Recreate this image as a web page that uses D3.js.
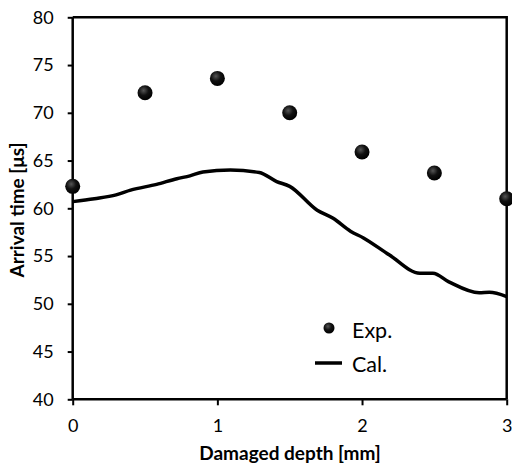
<!DOCTYPE html>
<html><head><meta charset="utf-8">
<script src="https://cdn.jsdelivr.net/npm/d3@7"></script>
<style>body{margin:0;background:#fff}svg{display:block}</style>
</head><body>
<svg id="c" width="512" height="465"></svg>
<script>
const expDepth = [0, 0.5, 1, 1.5, 2, 2.5, 3];
const expTime = [62.3, 72.1, 73.6, 70.0, 65.9, 63.7, 61.0];
const calDepth = [0, 0.15, 0.30, 0.40, 0.58, 0.72, 0.81, 0.90, 1.09, 1.29, 1.41, 1.50, 1.69, 1.80, 1.92, 2.01, 2.19, 2.40, 2.49, 2.60, 2.81, 2.88, 3.0];
const calTime = [60.7, 61.0, 61.4, 61.9, 62.5, 63.1, 63.4, 63.8, 64.0, 63.75, 62.8, 62.3, 59.8, 58.95, 57.6, 56.9, 55.1, 53.2, 53.2, 52.3, 51.15, 51.2, 50.75];
const xTicks = [0, 1, 2, 3];
const yTicks = [40, 45, 50, 55, 60, 65, 70, 75, 80];

const svg = d3.select("#c");
const L = 72.7, R = 506.7, T = 17.3, B = 399.3;
const x = d3.scaleLinear().domain([0, 3]).range([L, R]);
const y = d3.scaleLinear().domain([40, 80]).range([B, T]);
const font = "Lato, 'Open Sans', sans-serif";

const defs = svg.append("defs");
const g = defs.append("radialGradient").attr("id", "ball").attr("cx", "40%").attr("cy", "35%").attr("r", "65%");
g.append("stop").attr("offset", "0%").attr("stop-color", "#555");
g.append("stop").attr("offset", "50%").attr("stop-color", "#111");
g.append("stop").attr("offset", "100%").attr("stop-color", "#000");

// frame top/right
svg.append("line").attr("x1", L).attr("x2", R).attr("y1", T).attr("y2", T).attr("stroke", "#000").attr("stroke-width", 2.5);
svg.append("line").attr("x1", R).attr("x2", R).attr("y1", T - 1.2).attr("y2", B).attr("stroke", "#000").attr("stroke-width", 2.5);

const ya = svg.append("g").attr("transform", `translate(${L},0)`)
  .call(d3.axisLeft(y).tickValues(yTicks).tickFormat(d3.format("d")).tickSize(5).tickPadding(14));
const xa = svg.append("g").attr("transform", `translate(0,${B})`)
  .call(d3.axisBottom(x).tickValues(xTicks).tickFormat(d3.format("d")).tickSize(6).tickPadding(14));
[ya, xa].forEach(a => {
  a.select(".domain").attr("stroke-width", 2.5);
  a.selectAll(".tick line").attr("stroke-width", 2);
  a.selectAll("text").attr("font-family", font).attr("font-size", 18).attr("fill", "#000");
});
xa.select(".domain").attr("d", `M${L},0H${R}`);
ya.select(".domain").attr("d", `M0,${B}V${T}`);

// calc line
const line = d3.line().x((d, i) => x(calDepth[i])).y(d => y(d)).curve(d3.curveMonotoneX);
svg.append("path").datum(calTime).attr("d", line).attr("fill", "none").attr("stroke", "#000").attr("stroke-width", 3.5);

// exp points
svg.selectAll("circle.exp").data(expTime).enter().append("circle").attr("class", "exp")
  .attr("cx", (d, i) => x(expDepth[i])).attr("cy", d => y(d)).attr("r", 7.5).attr("fill", "url(#ball)");

// legend
svg.append("circle").attr("cx", 329).attr("cy", 328).attr("r", 5.5).attr("fill", "url(#ball)");
svg.append("text").attr("x", 352).attr("y", 338).text("Exp.").attr("font-family", font).attr("font-size", 21.5);
svg.append("line").attr("x1", 315).attr("x2", 342).attr("y1", 363).attr("y2", 363).attr("stroke", "#000").attr("stroke-width", 3.5);
svg.append("text").attr("x", 352).attr("y", 372).text("Cal.").attr("font-family", font).attr("font-size", 21.5);

// axis titles
svg.append("text").attr("x", 290).attr("y", 460).attr("text-anchor", "middle").text("Damaged depth [mm]")
  .attr("font-family", font).attr("font-weight", "bold").attr("font-size", 19);
svg.append("text").attr("transform", "translate(24,210) rotate(-90)").attr("text-anchor", "middle").text("Arrival time [μs]")
  .attr("font-family", font).attr("font-weight", "bold").attr("font-size", 19);
</script>
</body></html>
